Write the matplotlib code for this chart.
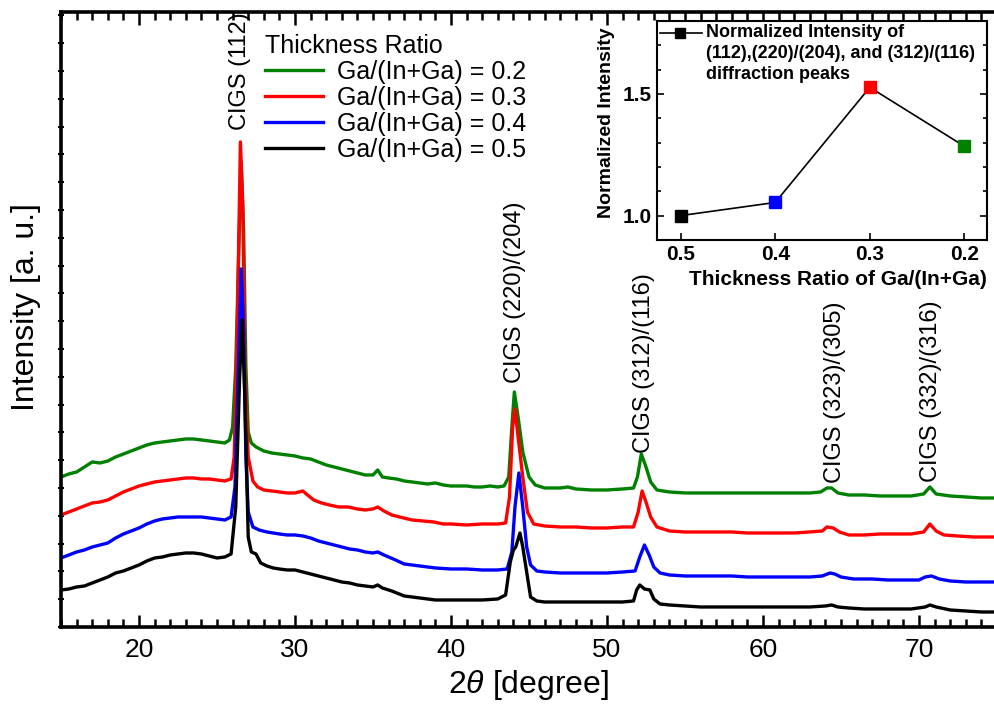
import matplotlib
matplotlib.use('Agg')
import matplotlib.pyplot as plt
from matplotlib.ticker import MultipleLocator

plt.rcParams['font.family'] = ['Liberation Sans', 'DejaVu Sans']
plt.rcParams['mathtext.fontset'] = 'custom'
plt.rcParams['mathtext.it'] = 'Liberation Sans:italic'
plt.rcParams['mathtext.rm'] = 'Liberation Sans'

# XRD patterns (2theta in degree, intensity in arbitrary units, already offset)
x_02 = [15.0, 15.5, 16.0, 16.5, 17.0, 17.5, 18.0, 18.5, 19.0, 19.5, 20.0, 20.5, 21.0, 21.5, 22.0,
        22.5, 23.0, 23.5, 24.0, 24.5, 25.0, 25.5, 25.8, 26.0, 26.2, 26.4, 26.55, 26.7, 26.85, 27.0,
        27.2, 27.5, 28.0, 28.5, 29.0, 29.5, 30.0, 30.5, 31.0, 31.5, 32.0, 32.5, 33.0, 33.5, 34.0,
        34.5, 35.0, 35.3, 35.6, 36.0, 36.5, 37.0, 37.5, 38.0, 38.5, 39.0, 39.5, 40.0, 40.5, 41.0,
        41.5, 42.0, 42.5, 43.0, 43.4, 43.7, 43.9, 44.06, 44.3, 44.6, 45.0, 45.4, 46.0, 47.0, 47.5,
        48.0, 49.0, 50.0, 51.0, 51.7, 51.95, 52.2, 52.5, 52.8, 53.2, 54.0, 55.0, 56.0, 57.0, 58.0,
        59.0, 60.0, 61.0, 62.0, 63.0, 63.7, 64.1, 64.4, 64.8, 65.5, 66.5, 67.5, 68.5, 69.5, 70.3,
        70.7, 71.1, 72.0, 73.0, 74.0, 75.0]
y_02 = [150, 153, 155, 160, 165, 164, 166, 170, 173, 176, 179, 182, 184, 185, 186,
        187, 188, 188, 187, 186, 185, 184, 187, 200, 260, 380, 465, 400, 260, 195,
        184, 180, 176, 174, 173, 172, 171, 169, 168, 165, 162, 160, 158, 156, 154,
        152, 152, 157, 150, 149, 148, 146, 145, 144, 143, 144, 142, 141, 141, 141,
        140, 140, 141, 140, 141, 150, 200, 235, 210, 175, 150, 142, 139, 139, 140,
        138, 137, 137, 138, 139, 150, 173, 160, 145, 137, 135, 134, 134, 134, 134,
        134, 134, 134, 134, 134, 135, 139, 139, 134, 132, 132, 131, 131, 131, 133,
        140, 133, 131, 130, 129, 129]

x_03 = [15.0, 15.5, 16.0, 16.5, 17.0, 17.5, 18.0, 18.5, 19.0, 19.5, 20.0, 20.5, 21.0, 21.5, 22.0,
        22.5, 23.0, 23.5, 24.0, 24.5, 25.0, 25.5, 25.9, 26.1, 26.3, 26.5, 26.65, 26.8, 27.0, 27.3,
        27.6, 28.0, 28.5, 29.0, 29.5, 30.0, 30.5, 30.8, 31.2, 31.7, 32.2, 32.8, 33.4, 34.0, 34.5,
        35.0, 35.3, 35.7, 36.2, 36.7, 37.5, 38.2, 38.9, 39.5, 40.0, 41.0, 42.0, 43.0, 43.5, 43.75,
        43.95, 44.1, 44.3, 44.6, 44.9, 45.3, 46.0, 47.0, 48.0, 49.0, 50.0, 51.0, 51.7, 52.0, 52.25,
        52.5, 52.8, 53.2, 54.0, 55.0, 56.0, 57.0, 58.0, 59.0, 60.0, 61.0, 62.0, 63.0, 63.8, 64.1,
        64.5, 64.9, 65.5, 66.5, 67.5, 68.5, 69.5, 70.3, 70.7, 71.1, 71.6, 72.5, 73.5, 74.5, 75.0]
y_03 = [112, 115, 118, 121, 124, 125, 127, 131, 135, 138, 141, 143, 145, 146, 147,
        148, 149, 149, 148, 148, 147, 146, 148, 170, 300, 485, 420, 250, 170, 146,
        140, 137, 136, 135, 134, 134, 136, 132, 127, 124, 122, 120, 120, 118, 117,
        118, 120, 116, 112, 110, 107, 106, 105, 103, 103, 102, 103, 103, 104, 130,
        200, 218, 190, 150, 115, 103, 101, 100, 100, 99, 99, 100, 100, 115, 136,
        125, 110, 100, 96, 95, 95, 95, 95, 94, 94, 94, 94, 95, 96, 100,
        99, 95, 92, 92, 93, 93, 93, 95, 103, 96, 92, 91, 90, 90, 90]

x_04 = [15.0, 15.5, 16.0, 16.5, 17.0, 17.5, 18.0, 18.5, 19.0, 19.5, 20.0, 20.5, 21.0, 21.5, 22.0,
        22.5, 23.0, 23.5, 24.0, 24.5, 25.0, 25.5, 25.9, 26.15, 26.35, 26.55, 26.7, 26.85, 27.0, 27.3,
        27.7, 28.2, 28.6, 29.0, 29.5, 30.0, 30.5, 31.0, 31.5, 32.0, 32.5, 33.0, 33.5, 34.0, 34.5,
        35.0, 35.3, 35.7, 36.3, 37.0, 37.5, 38.0, 39.0, 40.0, 41.0, 42.0, 43.0, 43.6, 43.9, 44.1,
        44.35, 44.6, 44.85, 45.1, 45.5, 46.0, 47.0, 48.0, 49.0, 50.0, 51.0, 51.8, 52.1, 52.4, 52.7,
        53.0, 53.4, 54.0, 55.0, 56.0, 57.0, 58.0, 59.0, 60.0, 61.0, 62.0, 63.0, 63.8, 64.3, 64.6,
        65.0, 65.8, 67.0, 68.0, 69.0, 70.0, 70.4, 70.8, 71.3, 72.0, 73.0, 74.0, 75.0]
y_04 = [69, 72, 75, 77, 80, 82, 84, 89, 93, 96, 99, 103, 106, 108, 109,
        110, 110, 110, 110, 109, 108, 107, 110, 140, 250, 358, 300, 170, 115, 100,
        97, 95, 94, 93, 92, 92, 91, 89, 86, 84, 82, 80, 78, 77, 75,
        74, 75, 72, 68, 63, 62, 61, 59, 58, 58, 57, 57, 58, 75, 120,
        154, 120, 80, 62, 56, 55, 54, 54, 54, 54, 55, 56, 70, 82, 72,
        60, 54, 52, 51, 51, 51, 51, 50, 50, 50, 50, 50, 51, 54, 53,
        50, 48, 48, 47, 47, 47, 50, 51, 48, 46, 45, 45, 45]

x_05 = [15.0, 15.5, 16.0, 16.5, 17.0, 17.5, 18.0, 18.5, 19.0, 19.5, 20.0, 20.5, 21.0, 21.5, 22.0,
        22.5, 23.0, 23.5, 24.0, 24.5, 25.0, 25.5, 25.9, 26.2, 26.45, 26.62, 26.8, 27.0, 27.2, 27.5,
        27.8, 28.2, 28.6, 29.0, 29.5, 30.0, 30.5, 31.0, 31.5, 32.0, 32.5, 33.0, 33.5, 34.0, 34.5,
        35.0, 35.3, 35.6, 36.2, 37.0, 37.5, 38.0, 39.0, 40.0, 41.0, 42.0, 43.0, 43.5, 43.8, 44.0,
        44.15, 44.42, 44.6, 44.8, 45.1, 45.5, 46.0, 47.0, 48.0, 49.0, 50.0, 51.0, 51.7, 51.9, 52.1,
        52.4, 52.75, 53.0, 53.4, 54.0, 55.0, 56.0, 57.0, 58.0, 59.0, 60.0, 61.0, 62.0, 63.0, 64.0,
        64.4, 64.8, 65.5, 66.5, 67.5, 68.5, 69.5, 70.4, 70.7, 71.1, 72.0, 73.0, 74.0, 75.0]
y_05 = [37, 38, 40, 41, 44, 47, 50, 54, 56, 59, 62, 66, 69, 70, 72,
        73, 74, 74, 73, 71, 69, 70, 73, 120, 250, 307, 220, 90, 75, 73,
        64, 61, 59, 58, 57, 57, 55, 53, 51, 49, 47, 45, 44, 42, 41,
        40, 42, 39, 36, 31, 30, 29, 27, 27, 27, 27, 28, 32, 65, 77,
        80, 94, 80, 60, 30, 26, 25, 25, 25, 25, 25, 25, 26, 37, 42,
        38, 37, 28, 23, 22, 21, 20, 20, 20, 20, 20, 20, 20, 20, 21,
        22, 20, 19, 18, 18, 18, 18, 20, 22, 20, 17, 16, 15, 15]

# peak labels
peak_names = ['CIGS (112)', 'CIGS (220)/(204)', 'CIGS (312)/(116)', 'CIGS (323)/(305)', 'CIGS (332)/(316)']
peak_pos = [26.5, 44.1, 52.4, 64.6, 70.8]
peak_label_y = [497, 244, 174, 144, 145]

# inset data
ratio = [0.5, 0.4, 0.3, 0.2]
norm_int = [1.0, 1.054, 1.527, 1.285]
ratio_colors = ['black', 'blue', 'red', 'green']

fig = plt.figure(figsize=(9.94, 7.12), dpi=100)
ax = fig.add_axes([0.0614, 0.1194, 0.9416, 0.8638])

ax.plot(x_02, y_02, color='green', lw=2.4, label='Ga/(In+Ga) = 0.2')
ax.plot(x_03, y_03, color='red', lw=2.4, label='Ga/(In+Ga) = 0.3')
ax.plot(x_04, y_04, color='blue', lw=2.4, label='Ga/(In+Ga) = 0.4')
ax.plot(x_05, y_05, color='black', lw=2.4, label='Ga/(In+Ga) = 0.5')

for name, px, py in zip(peak_names, peak_pos, peak_label_y):
    ax.text(px, py, name, rotation=90, ha='center', va='bottom', fontsize=17)

ax.set_xlim(15, 75)
ax.set_ylim(0, 615)
ax.xaxis.set_major_locator(MultipleLocator(10))
ax.xaxis.set_minor_locator(MultipleLocator(1))
ax.yaxis.set_major_locator(MultipleLocator(27.8))
ax.set_yticklabels([])
ax.tick_params(axis='x', which='major', direction='in', length=9, width=1.8, top=True, labelsize=19, pad=8)
ax.tick_params(axis='x', which='minor', direction='in', length=5.5, width=1.8, top=True)
ax.tick_params(axis='y', which='major', direction='inout', length=4, width=1.5, left=True)
for s in ax.spines.values():
    s.set_linewidth(2.6)

ax.set_xlabel(r'2$\theta$ [degree]', fontsize=23, labelpad=4)
ax.set_ylabel('Intensity [a. u.]', fontsize=23)
ax.yaxis.set_label_coords(-0.021, 0.52)

leg = ax.legend(loc='upper left', bbox_to_anchor=(0.218, 0.964), frameon=False, fontsize=18,
                title='Thickness Ratio', title_fontsize=18, alignment='left',
                handlelength=2.32, handletextpad=0.56, labelspacing=0.08, borderpad=0, borderaxespad=0)

# inset
axin = fig.add_axes([0.661, 0.663, 0.332, 0.3076])
axin.plot(ratio, norm_int, color='black', lw=1.2, zorder=1)
for r, v, c in zip(ratio, norm_int, ratio_colors):
    axin.plot(r, v, 's', color=c, ms=8, zorder=2)
axin.set_xlim(0.525, 0.176)
axin.set_ylim(0.9, 1.8)
axin.set_xticks(ratio)
axin.set_xticklabels(['0.5', '0.4', '0.3', '0.2'])
axin.yaxis.set_major_locator(MultipleLocator(0.5))
axin.yaxis.set_minor_locator(MultipleLocator(0.1))
axin.tick_params(which='both', direction='in', right=True, width=1.2)
axin.tick_params(which='major', length=5, labelsize=15)
axin.tick_params(which='minor', length=3)
for lab in axin.get_xticklabels() + axin.get_yticklabels():
    lab.set_fontweight('bold')
for s in axin.spines.values():
    s.set_linewidth(1.5)
axin.set_xlabel('Thickness Ratio of Ga/(In+Ga)', fontsize=15, fontweight='bold')
axin.xaxis.set_label_coords(0.548, -0.135)
axin.set_ylabel('Normalized Intensity', fontsize=14, fontweight='bold')
axin.yaxis.set_label_coords(-0.127, 0.534)

# inset legend drawn as a line + marker with wrapped bold text
axin.plot([0.009, 0.135], [0.944, 0.944], color='black', lw=1.2, transform=axin.transAxes, clip_on=False)
axin.plot([0.07], [0.944], 's', color='black', ms=7, transform=axin.transAxes, clip_on=False)
axin.text(0.148, 0.985, 'Normalized Intensity of\n(112),(220)/(204), and (312)/(116)\ndiffraction peaks',
          transform=axin.transAxes, ha='left', va='top', fontsize=13, fontweight='bold', linespacing=1.3)

fig.savefig('out.png', dpi=100)
